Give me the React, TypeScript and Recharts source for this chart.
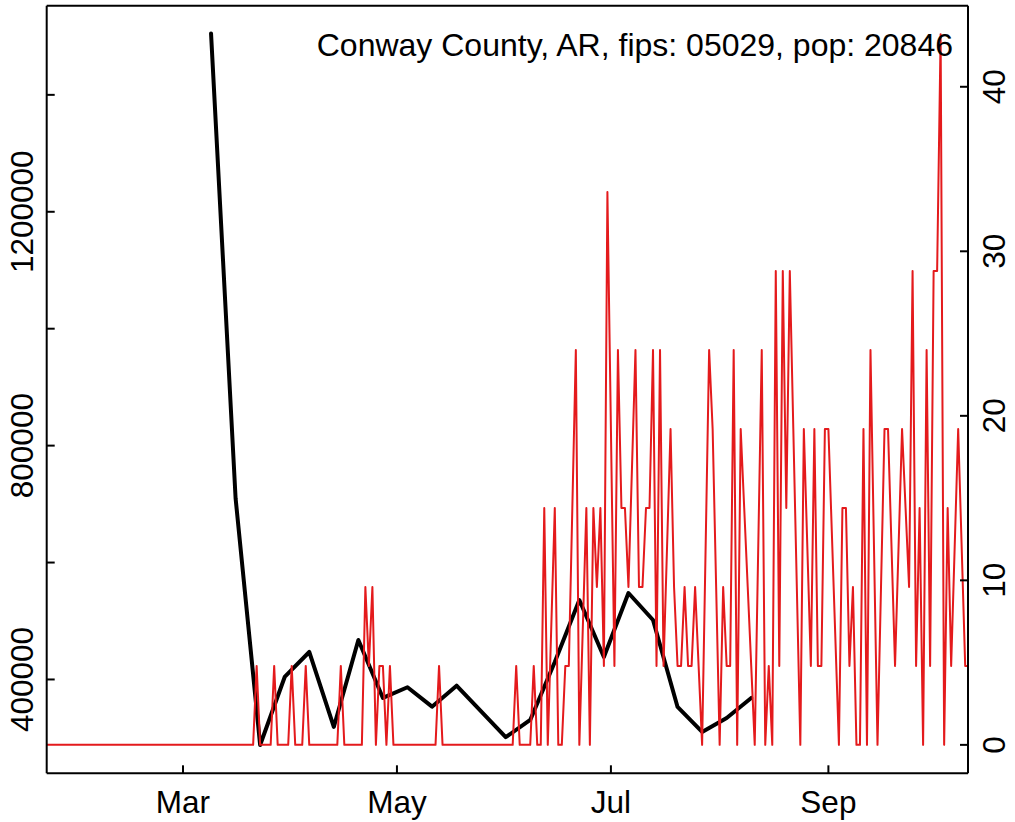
import React from 'react';
import { ComposedChart, Line, XAxis, YAxis, ReferenceLine } from 'recharts';

const FONT = '"Liberation Sans", Arial, Helvetica, sans-serif';
const FS = 31.5;

// x values are day-of-year 2020 (0 = Jan 1)
const title = 'Conway County, AR, fips: 05029, pop: 20846';

// daily new cases per 100k (red, right axis); null = date missing in source
const dailyStartDay = 21; // Jan 22
const redJan = [0, 0, 0, 0, 0, 0, 0, 0, 0, 0];
const redFeb = [0, 0, 0, 0, 0, 0, 0, 0, 0, 0, 0, 0, 0, 0, 0, 0, 0, 0, 0, 0, 0, 0, 0, 0, 0, 0, 0, 0, 0];
const redMar = [0, 0, 0, 0, 0, 0, 0, 0, 0, 0, 0, 0, 0, 0, 0, 0, 0, 0, 0, 0, 0, 4.8, 0, 0, 0, 0, 4.8, 0, 0, 0, 0];
const redApr = [4.8, 0, 0, 0, 4.8, 0, 0, 0, 0, 0, 0, 0, 0, 0, 4.8, 0, 0, 0, 0, 0, 0, 9.6, 4.8, 9.6, 0, 4.8, 4.8, 0, 4.8, 0];
const redMay = [0, 0, 0, 0, 0, 0, 0, 0, 0, 0, 0, 0, 4.8, 0, 0, 0, 0, 0, 0, 0, 0, 0, 0, 0, 0, 0, 0, 0, 0, 0, 0];
const redJun = [0, 0, 0, 4.8, 0, 0, 0, 0, 4.8, 0, 0, 14.4, 0, null, 14.4, 0, 0, 4.8, 4.8, 14.4, 24, 0, null, 14.4, 0, 14.4, 9.6, 14.4, 4.8, 33.6];
const redJul = [19.2, 4.8, 24, 14.4, 14.4, 9.6, null, 24, 9.6, 9.6, 14.4, 14.4, 24, 4.8, 24, 4.8, null, 19.2, 9.6, 4.8, 4.8, 9.6, 4.8, 4.8, 9.6, 4.8, 0, null, 24, 19.2, 9.6];
const redAug = [0, 9.6, 4.8, 4.8, 24, 0, 19.2, 14.4, 9.6, 4.8, 0, null, 24, 0, 4.8, 0, 28.8, 4.8, 28.8, 14.4, 28.8, 19.2, 9.6, 0, 19.2, null, 4.8, 19.2, 4.8, 4.8, 19.2];
const redSep = [19.2, null, null, 0, 14.4, 14.4, 4.8, 9.6, 0, 0, 19.2, 0, 24, null, 0, 9.6, 19.2, 19.2, null, 4.8, null, 19.2, 14.4, 9.6, 28.8, 4.8, 14.4, 0, 24, 4.8];
const redOct = [28.8, 28.8, 43.2, 0, 14.4, 4.8, null, 19.2, null, 4.8, 4.8];

// weekly series (black, left axis)
const weeklyStartDay = 68; // Mar 9
const weeklyValues = [
  1505000, 710000, 288000, 404300, 447000, 318800, 467500, 368400, 386700, 353500, 389400, 345600,
  301200, 330800, 429900, 535900, 438500, 547900, 501700, 353000, 310300, 334200, 368400,
];

const monthTicks = [60, 121, 182, 244];
const monthLabels = ['Mar', 'May', 'Jul', 'Sep'];
const leftTicks = [400000, 600000, 800000, 1000000, 1200000, 1400000];
const leftLabeled = [400000, 800000, 1200000];
const rightTicks = [0, 10, 20, 30, 40];

const xDomain: [number, number] = [21.15, 283.8];
const leftDomain: [number, number] = [239500, 1552500];
const rightDomain: [number, number] = [-1.728, 44.928];

const redAll = [...redJan, ...redFeb, ...redMar, ...redApr, ...redMay, ...redJun, ...redJul, ...redAug, ...redSep, ...redOct];
const dailyData = redAll.map((v, i) => ({ day: dailyStartDay + i, v }));
const weeklyData = weeklyValues.map((v, i) => ({ day: weeklyStartDay + 7 * i, v }));

const TICK_LEN = 8;

const XTick = (props: any) => {
  const { x, y, payload } = props;
  const idx = monthTicks.indexOf(payload.value);
  return (
    <g>
      <line x1={x} x2={x} y1={y} y2={y - TICK_LEN} stroke="#000" strokeWidth={2} />
      <text x={x} y={y + 39.5} textAnchor="middle" fontSize={FS} fontFamily={FONT} fill="#000">
        {idx >= 0 ? monthLabels[idx] : ''}
      </text>
    </g>
  );
};

const LeftTick = (props: any) => {
  const { x, y, payload } = props;
  const show = leftLabeled.includes(payload.value);
  return (
    <g>
      <line x1={x} x2={x + TICK_LEN} y1={y} y2={y} stroke="#000" strokeWidth={2} />
      {show && (
        <text
          x={0}
          y={0}
          transform={`translate(${x - 13.4},${y}) rotate(-90)`}
          textAnchor="middle"
          fontSize={FS}
          fontFamily={FONT}
          fill="#000"
        >
          {String(payload.value)}
        </text>
      )}
    </g>
  );
};

const RightTick = (props: any) => {
  const { x, y, payload } = props;
  return (
    <g>
      <line x1={x} x2={x - TICK_LEN} y1={y} y2={y} stroke="#000" strokeWidth={2} />
      <text
        x={0}
        y={0}
        transform={`translate(${x + 36.5},${y}) rotate(-90)`}
        textAnchor="middle"
        fontSize={FS}
        fontFamily={FONT}
        fill="#000"
      >
        {String(payload.value)}
      </text>
    </g>
  );
};

export default function App() {
  return (
    <div style={{ position: 'absolute', left: 0, top: 0, width: 1015, height: 822, background: '#fff' }}>
      <ComposedChart width={1015} height={822} margin={{ top: 5.7, right: 0, bottom: 0, left: 0 }}>
        <XAxis
          xAxisId="b"
          dataKey="day"
          type="number"
          domain={xDomain}
          allowDataOverflow
          ticks={monthTicks}
          interval={0}
          height={48.7}
          tickSize={0}
          tickMargin={0}
          tickLine={false}
          axisLine={{ stroke: '#000', strokeWidth: 2 }}
          tick={<XTick />}
        />
        <YAxis
          yAxisId="l"
          orientation="left"
          type="number"
          domain={leftDomain}
          allowDataOverflow
          ticks={leftTicks}
          interval={0}
          width={46.7}
          tickSize={0}
          tickMargin={0}
          tickLine={false}
          axisLine={{ stroke: '#000', strokeWidth: 2 }}
          tick={<LeftTick />}
        />
        <YAxis
          yAxisId="r"
          orientation="right"
          type="number"
          domain={rightDomain}
          allowDataOverflow
          ticks={rightTicks}
          interval={0}
          width={47}
          tickSize={0}
          tickMargin={0}
          tickLine={false}
          axisLine={{ stroke: '#000', strokeWidth: 2 }}
          tick={<RightTick />}
        />
        <ReferenceLine xAxisId="b" yAxisId="l" y={leftDomain[1]} stroke="#000" strokeWidth={2} />
        <Line
          xAxisId="b"
          yAxisId="l"
          data={weeklyData}
          dataKey="v"
          type="linear"
          stroke="#000"
          strokeWidth={4}
          strokeLinejoin="round"
          strokeLinecap="round"
          dot={false}
          activeDot={false}
          isAnimationActive={false}
        />
        <Line
          xAxisId="b"
          yAxisId="r"
          data={dailyData}
          dataKey="v"
          type="linear"
          stroke="#E41A1C"
          strokeWidth={2}
          strokeLinejoin="round"
          dot={false}
          activeDot={false}
          connectNulls
          isAnimationActive={false}
        />
      </ComposedChart>
      <svg width={1015} height={822} style={{ position: 'absolute', left: 0, top: 0, pointerEvents: 'none' }}>
        <text x={953} y={56} textAnchor="end" fontSize={32} fontFamily={FONT} fill="#000">
          {title}
        </text>
      </svg>
    </div>
  );
}
